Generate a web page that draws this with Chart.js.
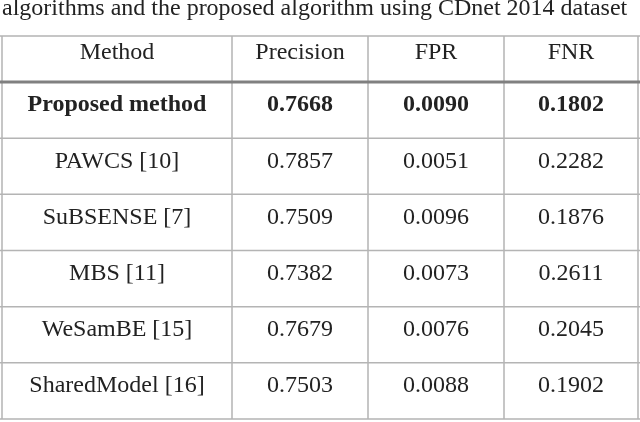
<!DOCTYPE html>
<html>
<head>
<meta charset="utf-8">
<script src="https://cdn.jsdelivr.net/npm/chart.js@4/dist/chart.umd.min.js"></script>
<style>
  html, body { margin: 0; padding: 0; background: #fff; }
  #wrap { position: relative; width: 640px; height: 422px; }
</style>
</head>
<body>
<div id="wrap"><canvas id="tbl"></canvas></div>
<script>
// table contents
const title = 'algorithms and the proposed algorithm using CDnet 2014 dataset';
const columns = ['Method', 'Precision', 'FPR', 'FNR'];
const methods = ['Proposed method', 'PAWCS [10]', 'SuBSENSE [7]', 'MBS [11]', 'WeSamBE [15]', 'SharedModel [16]'];
const precision = ['0.7668', '0.7857', '0.7509', '0.7382', '0.7679', '0.7503'];
const fpr = ['0.0090', '0.0051', '0.0096', '0.0073', '0.0076', '0.0088'];
const fnr = ['0.1802', '0.2282', '0.1876', '0.2611', '0.2045', '0.1902'];
const boldRow = 0;

// column edges on the x scale (uneven widths, as in the source)
const colEdges = [2, 232, 368, 504, 638];
const colCenters = columns.map((c, j) => (colEdges[j] + colEdges[j + 1]) / 2);
const HEADER_H = 46;
const FONT = '"Liberation Serif", "Times New Roman", serif';

// one point per cell
const cells = [];
methods.forEach((m, i) => {
  [m, precision[i], fpr[i], fnr[i]].forEach((v, j) => {
    cells.push({ x: colCenters[j], y: m, text: v, bold: i === boldRow });
  });
});

const tablePlugin = {
  id: 'table',
  afterDatasetsDraw(chart) {
    const ctx = chart.ctx;
    const xs = chart.scales.x, ys = chart.scales.y;
    const area = chart.chartArea;
    const rowH = ys.getPixelForValue(1) - ys.getPixelForValue(0);
    const top = area.top - HEADER_H;
    ctx.save();

    // title (clipped at top like the source)
    ctx.fillStyle = '#222';
    ctx.font = '24px ' + FONT;
    ctx.textBaseline = 'alphabetic';
    ctx.textAlign = 'left';
    ctx.fillText(title, 2, 15);

    // grid
    ctx.strokeStyle = '#b4b4b4';
    ctx.lineWidth = 1.5;
    ctx.beginPath();
    ctx.moveTo(area.left, top); ctx.lineTo(area.right, top);
    for (let i = 1; i <= methods.length; i++) {
      const y = ys.getPixelForValue(i - 1) + rowH / 2;
      ctx.moveTo(area.left, y); ctx.lineTo(area.right, y);
    }
    colEdges.forEach(e => {
      const x = xs.getPixelForValue(e);
      ctx.moveTo(x, top); ctx.lineTo(x, area.bottom);
    });
    ctx.stroke();

    // thick header rule
    ctx.strokeStyle = '#808080';
    ctx.lineWidth = 3;
    ctx.beginPath();
    ctx.moveTo(area.left, area.top); ctx.lineTo(area.right, area.top);
    ctx.stroke();

    // header text
    ctx.fillStyle = '#222';
    ctx.textAlign = 'center';
    ctx.textBaseline = 'middle';
    ctx.font = '24px ' + FONT;
    columns.forEach((c, j) => ctx.fillText(c, xs.getPixelForValue(colCenters[j]), top + HEADER_H / 2 - 6));

    // cell text, placed by the dataset's points
    const meta = chart.getDatasetMeta(0);
    meta.data.forEach((pt, k) => {
      const cell = cells[k];
      ctx.font = (cell.bold ? 'bold ' : '') + '24px ' + FONT;
      ctx.fillText(cell.text, pt.x, pt.y - 5);
    });
    ctx.restore();
  }
};

new Chart(document.getElementById('tbl'), {
  type: 'scatter',
  data: {
    datasets: [{ data: cells, pointRadius: 0, pointHoverRadius: 0 }]
  },
  options: {
    responsive: true,
    maintainAspectRatio: false,
    animation: false,
    events: [],
    layout: { padding: { left: 0, right: 0, top: 82, bottom: 3 } },
    plugins: { legend: { display: false }, tooltip: { enabled: false } },
    scales: {
      x: { type: 'linear', min: 0, max: 640, display: false },
      y: { type: 'category', labels: methods, offset: true, display: false }
    }
  },
  plugins: [tablePlugin]
});
</script>
</body>
</html>
